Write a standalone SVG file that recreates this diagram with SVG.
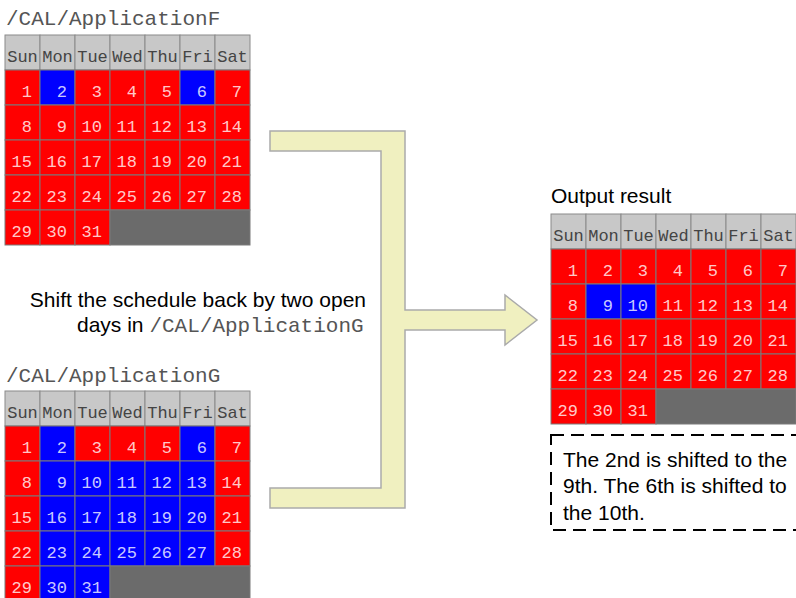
<svg xmlns="http://www.w3.org/2000/svg" width="796" height="598" viewBox="0 0 796 598">
<style>
.r{fill:#ff0000;stroke:#7a7a7a;stroke-width:1}
.b{fill:#0000ff;stroke:#7a7a7a;stroke-width:1}
.g{fill:#6b6b6b;stroke:#7a7a7a;stroke-width:1}
.h{fill:#c8c8c8;stroke:#8a8a8a;stroke-width:1}
.ht{font-family:"Liberation Mono","DejaVu Sans Mono",monospace;font-size:17px;fill:#444;text-anchor:middle}
.d{font-family:"Liberation Mono","DejaVu Sans Mono",monospace;font-size:17px;fill:#ffffff;fill-opacity:0.8;text-anchor:end}
.mono{font-family:"Liberation Mono","DejaVu Sans Mono",monospace;font-size:21px;fill:#555}
.sans{font-family:"Liberation Sans",Arial,sans-serif;font-size:21px;fill:#000}
</style>
<defs>
<g id="hdr">
<rect class="h" x="0" y="0" width="35" height="35"/><rect class="h" x="35" y="0" width="35" height="35"/><rect class="h" x="70" y="0" width="35" height="35"/><rect class="h" x="105" y="0" width="35" height="35"/><rect class="h" x="140" y="0" width="35" height="35"/><rect class="h" x="175" y="0" width="35" height="35"/><rect class="h" x="210" y="0" width="35" height="35"/>
<text class="ht" x="17.5" y="27">Sun</text><text class="ht" x="52.5" y="27">Mon</text><text class="ht" x="87.5" y="27">Tue</text><text class="ht" x="122.5" y="27">Wed</text><text class="ht" x="157.5" y="27">Thu</text><text class="ht" x="192.5" y="27">Fri</text><text class="ht" x="227.5" y="27">Sat</text>
</g>
<g id="nums">
<text class="d" x="27" y="62">1</text><text class="d" x="62" y="62">2</text><text class="d" x="97" y="62">3</text><text class="d" x="132" y="62">4</text><text class="d" x="167" y="62">5</text><text class="d" x="202" y="62">6</text><text class="d" x="237" y="62">7</text>
<text class="d" x="27" y="97">8</text><text class="d" x="62" y="97">9</text><text class="d" x="97" y="97">10</text><text class="d" x="132" y="97">11</text><text class="d" x="167" y="97">12</text><text class="d" x="202" y="97">13</text><text class="d" x="237" y="97">14</text>
<text class="d" x="27" y="132">15</text><text class="d" x="62" y="132">16</text><text class="d" x="97" y="132">17</text><text class="d" x="132" y="132">18</text><text class="d" x="167" y="132">19</text><text class="d" x="202" y="132">20</text><text class="d" x="237" y="132">21</text>
<text class="d" x="27" y="167">22</text><text class="d" x="62" y="167">23</text><text class="d" x="97" y="167">24</text><text class="d" x="132" y="167">25</text><text class="d" x="167" y="167">26</text><text class="d" x="202" y="167">27</text><text class="d" x="237" y="167">28</text>
<text class="d" x="27" y="202">29</text><text class="d" x="62" y="202">30</text><text class="d" x="97" y="202">31</text>
</g>
</defs>

<g id="connectors">
<polygon points="270,131 405,131 405,310 505,310 505,295 537,320 505,345 505,330 405,330 405,508 270,508 270,488 381,488 381,151 270,151" fill="#f0f0c0" stroke="#aaaaaa" stroke-width="1.5"/>
</g>

<g id="label-F"><text class="mono" x="6" y="25">/CAL/ApplicationF</text></g>
<g id="calendar-F" transform="translate(5,35)">
<use href="#hdr"/>
<rect class="r" x="0" y="35" width="35" height="35"/><rect class="b" x="35" y="35" width="35" height="35"/><rect class="r" x="70" y="35" width="35" height="35"/><rect class="r" x="105" y="35" width="35" height="35"/><rect class="r" x="140" y="35" width="35" height="35"/><rect class="b" x="175" y="35" width="35" height="35"/><rect class="r" x="210" y="35" width="35" height="35"/>
<rect class="r" x="0" y="70" width="35" height="35"/><rect class="r" x="35" y="70" width="35" height="35"/><rect class="r" x="70" y="70" width="35" height="35"/><rect class="r" x="105" y="70" width="35" height="35"/><rect class="r" x="140" y="70" width="35" height="35"/><rect class="r" x="175" y="70" width="35" height="35"/><rect class="r" x="210" y="70" width="35" height="35"/>
<rect class="r" x="0" y="105" width="35" height="35"/><rect class="r" x="35" y="105" width="35" height="35"/><rect class="r" x="70" y="105" width="35" height="35"/><rect class="r" x="105" y="105" width="35" height="35"/><rect class="r" x="140" y="105" width="35" height="35"/><rect class="r" x="175" y="105" width="35" height="35"/><rect class="r" x="210" y="105" width="35" height="35"/>
<rect class="r" x="0" y="140" width="35" height="35"/><rect class="r" x="35" y="140" width="35" height="35"/><rect class="r" x="70" y="140" width="35" height="35"/><rect class="r" x="105" y="140" width="35" height="35"/><rect class="r" x="140" y="140" width="35" height="35"/><rect class="r" x="175" y="140" width="35" height="35"/><rect class="r" x="210" y="140" width="35" height="35"/>
<rect class="r" x="0" y="175" width="35" height="35"/><rect class="r" x="35" y="175" width="35" height="35"/><rect class="r" x="70" y="175" width="35" height="35"/><rect class="g" x="105" y="175" width="140" height="35"/>
<use href="#nums"/>
</g>

<g id="instruction">
<text class="sans" x="366" y="307" text-anchor="end">Shift the schedule back by two open</text>
<text class="sans" x="77" y="332">days in <tspan class="mono">/CAL/ApplicationG</tspan></text>
</g>

<g id="label-G"><text class="mono" x="6" y="382">/CAL/ApplicationG</text></g>
<g id="calendar-G" transform="translate(5,391)">
<use href="#hdr"/>
<rect class="r" x="0" y="35" width="35" height="35"/><rect class="b" x="35" y="35" width="35" height="35"/><rect class="r" x="70" y="35" width="35" height="35"/><rect class="r" x="105" y="35" width="35" height="35"/><rect class="r" x="140" y="35" width="35" height="35"/><rect class="b" x="175" y="35" width="35" height="35"/><rect class="r" x="210" y="35" width="35" height="35"/>
<rect class="r" x="0" y="70" width="35" height="35"/><rect class="b" x="35" y="70" width="35" height="35"/><rect class="b" x="70" y="70" width="35" height="35"/><rect class="b" x="105" y="70" width="35" height="35"/><rect class="b" x="140" y="70" width="35" height="35"/><rect class="b" x="175" y="70" width="35" height="35"/><rect class="r" x="210" y="70" width="35" height="35"/>
<rect class="r" x="0" y="105" width="35" height="35"/><rect class="b" x="35" y="105" width="35" height="35"/><rect class="b" x="70" y="105" width="35" height="35"/><rect class="b" x="105" y="105" width="35" height="35"/><rect class="b" x="140" y="105" width="35" height="35"/><rect class="b" x="175" y="105" width="35" height="35"/><rect class="r" x="210" y="105" width="35" height="35"/>
<rect class="r" x="0" y="140" width="35" height="35"/><rect class="b" x="35" y="140" width="35" height="35"/><rect class="b" x="70" y="140" width="35" height="35"/><rect class="b" x="105" y="140" width="35" height="35"/><rect class="b" x="140" y="140" width="35" height="35"/><rect class="b" x="175" y="140" width="35" height="35"/><rect class="r" x="210" y="140" width="35" height="35"/>
<rect class="r" x="0" y="175" width="35" height="35"/><rect class="b" x="35" y="175" width="35" height="35"/><rect class="b" x="70" y="175" width="35" height="35"/><rect class="g" x="105" y="175" width="140" height="35"/>
<use href="#nums"/>
</g>

<g id="label-output"><text class="sans" x="551" y="203">Output result</text></g>
<g id="calendar-output" transform="translate(551,214)">
<use href="#hdr"/>
<rect class="r" x="0" y="35" width="35" height="35"/><rect class="r" x="35" y="35" width="35" height="35"/><rect class="r" x="70" y="35" width="35" height="35"/><rect class="r" x="105" y="35" width="35" height="35"/><rect class="r" x="140" y="35" width="35" height="35"/><rect class="r" x="175" y="35" width="35" height="35"/><rect class="r" x="210" y="35" width="35" height="35"/>
<rect class="r" x="0" y="70" width="35" height="35"/><rect class="b" x="35" y="70" width="35" height="35"/><rect class="b" x="70" y="70" width="35" height="35"/><rect class="r" x="105" y="70" width="35" height="35"/><rect class="r" x="140" y="70" width="35" height="35"/><rect class="r" x="175" y="70" width="35" height="35"/><rect class="r" x="210" y="70" width="35" height="35"/>
<rect class="r" x="0" y="105" width="35" height="35"/><rect class="r" x="35" y="105" width="35" height="35"/><rect class="r" x="70" y="105" width="35" height="35"/><rect class="r" x="105" y="105" width="35" height="35"/><rect class="r" x="140" y="105" width="35" height="35"/><rect class="r" x="175" y="105" width="35" height="35"/><rect class="r" x="210" y="105" width="35" height="35"/>
<rect class="r" x="0" y="140" width="35" height="35"/><rect class="r" x="35" y="140" width="35" height="35"/><rect class="r" x="70" y="140" width="35" height="35"/><rect class="r" x="105" y="140" width="35" height="35"/><rect class="r" x="140" y="140" width="35" height="35"/><rect class="r" x="175" y="140" width="35" height="35"/><rect class="r" x="210" y="140" width="35" height="35"/>
<rect class="r" x="0" y="175" width="35" height="35"/><rect class="r" x="35" y="175" width="35" height="35"/><rect class="r" x="70" y="175" width="35" height="35"/><rect class="g" x="105" y="175" width="140" height="35"/>
<use href="#nums"/>
</g>

<g id="note">
<rect x="551" y="435" width="260" height="95" fill="none" stroke="#000" stroke-width="2" stroke-dasharray="13 7"/>
<text class="sans" x="563" y="467">The 2nd is shifted to the</text>
<text class="sans" x="563" y="493">9th. The 6th is shifted to</text>
<text class="sans" x="563" y="520">the 10th.</text>
</g>
</svg>
